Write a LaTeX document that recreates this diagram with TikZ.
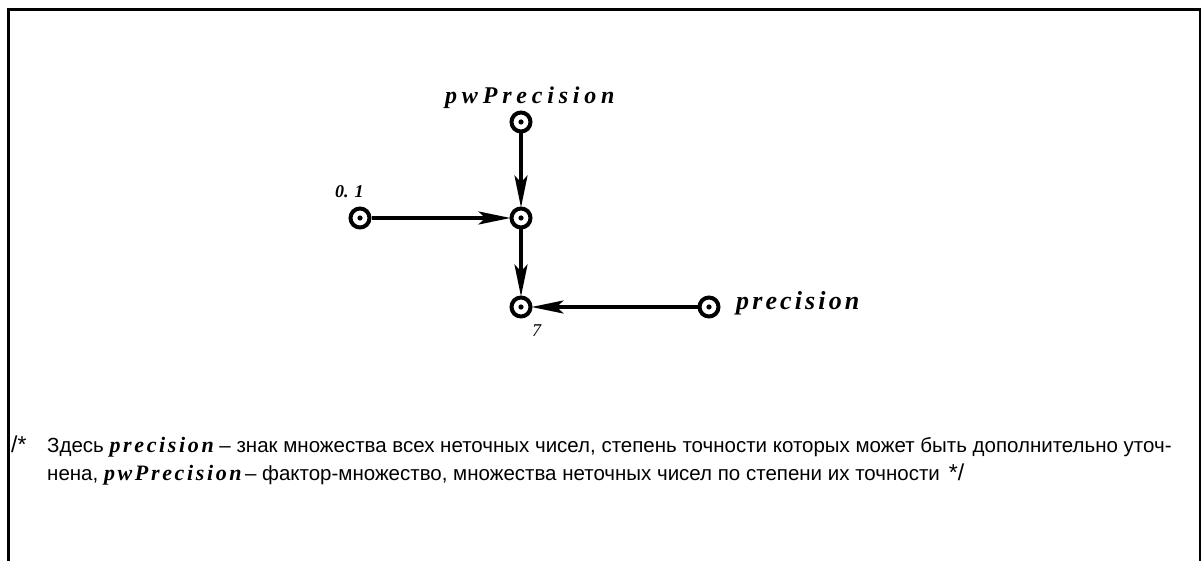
\documentclass[tikz,border=0pt]{standalone}
\usepackage{fontspec}
\setmainfont{Liberation Sans}
\newfontfamily\lserif{Liberation Serif}
\newfontfamily\lserifwide{Liberation Serif}[LetterSpace=20]
\newfontfamily\lserifmid{Liberation Serif}[LetterSpace=12]
% identifiers set inside the running text
\newcommand\ident[1]{{\lserifmid\bfseries\itshape\fontsize{22}{22}\selectfont #1}}
% comment delimiters, set a little larger than the text
\newcommand\cdelim[1]{{\fontsize{23}{24}\selectfont #1}}
\usetikzlibrary{arrows.meta}
\begin{document}
\begin{tikzpicture}[x=1pt,y=-1pt,
  dotnode/.style={circle,draw,line width=4pt,minimum size=19pt,inner sep=0pt,
    path picture={\fill (path picture bounding box.center) circle (2.6pt);}},
  lbl/.style={inner sep=0pt,anchor=base west},
  conn/.style={line width=3.5pt,-{Stealth[length=32pt,width=13pt,inset=7pt]},shorten >=-1pt},
  frame/.style={line width=2.5pt},
  txt/.style={anchor=base west,inner sep=0pt,font=\fontsize{20.5}{24}\selectfont}]
\useasboundingbox (0,0) rectangle (1202,561);
% open frame
\draw[frame] (8.3,561) -- (8.3,9.5) -- (1200,9.5) -- (1200,561);
% nodes
\node[dotnode] (pw) at (521,122) {};
\node[dotnode] (c) at (521,218) {};
\node[dotnode] (z) at (360,218) {};
\node[dotnode] (s) at (521,307) {};
\node[dotnode] (p) at (709,307) {};
% labels
\node[lbl,font=\lserifwide\bfseries\itshape\fontsize{24}{26}\selectfont] (lpw) at (445,104) {pwPrecision};
\node[lbl,font=\lserif\bfseries\itshape\fontsize{18}{20}\selectfont] (lz) at (335,198) {0.\,\,1};
\node[lbl,font=\lserifmid\bfseries\itshape\fontsize{26}{28}\selectfont] (lp) at (736,310) {precision};
\node[lbl,font=\lserif\itshape\fontsize{18}{20}\selectfont] (ls) at (532,337) {7};
% connectors
\draw[conn] (pw) -- (c);
\draw[conn] (z) -- (c);
\draw[conn] (c) -- (s);
\draw[conn] (p) -- (s);
% comment text
\node[txt] (t0) at (11,452) {\cdelim{/*}};
\node[txt] (t1) at (47,452)
  {Здесь \ident{precision} – знак множества всех неточных чисел, степень точности которых может быть дополнительно уточ-};
\node[txt] (t2) at (47,480)
  {нена, \ident{pwPrecision}\,– фактор-множество, множества неточных чисел по степени их точности\hspace{9pt}\cdelim{*/}};
\end{tikzpicture}
\end{document}
